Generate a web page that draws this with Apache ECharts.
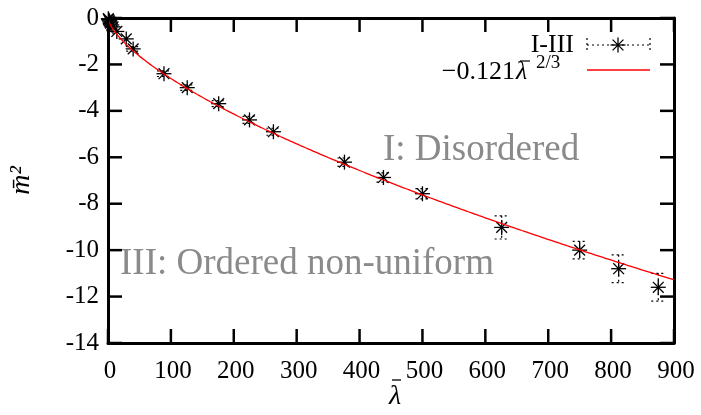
<!DOCTYPE html>
<html>
<head>
<meta charset="utf-8">
<script src="https://cdn.jsdelivr.net/npm/echarts@6/dist/echarts.min.js"></script>
<style>
  html, body { margin: 0; padding: 0; background: #fff; }
  #chart { width: 701px; height: 415px; }
</style>
</head>
<body>
<div id="chart"></div>
<script>
// Measured order parameter versus coupling, regions I-III
const lambdaVals = [0.5, 1, 2, 3, 4, 6, 8, 14, 29, 40, 89, 126, 176, 225, 263, 376, 438, 500, 626, 750, 812, 875];
const m2Vals = [-0.03, -0.07, -0.12, -0.17, -0.22, -0.3, -0.38, -0.58, -0.9, -1.33, -2.4, -3.0, -3.69, -4.39, -4.9, -6.21, -6.87, -7.57, -9.02, -10.0, -10.8, -11.6];
const m2Err = [0.02, 0.02, 0.03, 0.03, 0.03, 0.04, 0.04, 0.05, 0.08, 0.1, 0.12, 0.12, 0.13, 0.15, 0.15, 0.18, 0.2, 0.22, 0.5, 0.38, 0.6, 0.6];

// Power-law fit quoted in the key
const fitCoef = -0.121;
const fitExp = 2 / 3;
const fitLambda = [];
for (let l = 0; l <= 900; l += 2) fitLambda.push(l);

const xTicks = [0, 100, 200, 300, 400, 500, 600, 700, 800, 900];
const yTicks = [0, -2, -4, -6, -8, -10, -12, -14];
const X_MIN = 0, X_MAX = 900, Y_MIN = -14, Y_MAX = 0;

const serifFont = 'Liberation Serif';
const fitData = fitLambda.map(l => [l, fitCoef * Math.pow(l, fitExp)]);
const pointData = lambdaVals.map((l, i) => [l, m2Vals[i], m2Err[i]]);
const TICK_LEN = 14;
const TICK_W = 2.5;

function starLines(cx, cy, r, width) {
  const d = r * 0.72;
  const st = () => ({ stroke: '#000', lineWidth: width });
  return [
    { type: 'line', shape: { x1: cx - r, y1: cy, x2: cx + r, y2: cy }, style: st() },
    { type: 'line', shape: { x1: cx, y1: cy - r, x2: cx, y2: cy + r }, style: st() },
    { type: 'line', shape: { x1: cx - d, y1: cy - d, x2: cx + d, y2: cy + d }, style: st() },
    { type: 'line', shape: { x1: cx - d, y1: cy + d, x2: cx + d, y2: cy - d }, style: st() },
    { type: 'circle', shape: { cx, cy, r: 1.6 }, style: { fill: '#000' } }
  ];
}

// inward tick marks drawn as thin filled bars
const vTick = (x, y, dir) => ({ type: 'rect',
  shape: { x: x - TICK_W / 2, y: dir > 0 ? y : y - TICK_LEN, width: TICK_W, height: TICK_LEN },
  style: { fill: '#000' } });
const hTick = (x, y, dir) => ({ type: 'rect',
  shape: { x: dir > 0 ? x : x - TICK_LEN, y: y - TICK_W / 2, width: TICK_LEN, height: TICK_W },
  style: { fill: '#000' } });

const chart = echarts.init(document.getElementById('chart'), null, { renderer: 'canvas' });

function frameAxis(position, extra) {
  return Object.assign({
    type: 'value', position,
    axisLine: { show: true, onZero: false, lineStyle: { color: '#000', width: 3 } },
    axisTick: { show: false },
    splitLine: { show: false },
    axisLabel: { show: false }
  }, extra);
}

chart.setOption({
  animation: false,
  grid: { left: 102, top: 18, right: 27, bottom: 72 },
  xAxis: [
    frameAxis('bottom', { min: X_MIN, max: X_MAX, interval: 100 }),
    frameAxis('top', { min: X_MIN, max: X_MAX, interval: 100 })
  ],
  yAxis: [
    frameAxis('left', { min: Y_MIN, max: Y_MAX, interval: 2,
      name: 'm\u0304\u00b2', nameLocation: 'middle', nameGap: 72, nameRotate: 90,
      nameTextStyle: { fontFamily: serifFont, fontStyle: 'italic', fontSize: 28, color: '#000' } }),
    frameAxis('right', { min: Y_MIN, max: Y_MAX, interval: 2 })
  ],
  series: [{
    // x ticks on the bottom and top borders, with labels below
    name: 'xFrame',
    type: 'custom',
    clip: false,
    silent: true,
    zlevel: 1,
    z: 10,
    data: xTicks.map(v => [v, Y_MIN]),
    renderItem(params, api) {
      const v = api.value(0);
      const b = api.coord([v, Y_MIN]);
      const t = api.coord([v, Y_MAX]);
      return { type: 'group', children: [
        vTick(b[0], b[1], -1),
        vTick(t[0], t[1], 1),
        { type: 'text', x: b[0] + 2, y: b[1] + 16, style: { text: String(v), fontFamily: serifFont, fontSize: 25,
          fill: '#000', align: 'center', verticalAlign: 'top' } }
      ] };
    }
  }, {
    // y ticks on the left and right borders, with labels at the left
    name: 'yFrame',
    type: 'custom',
    clip: false,
    silent: true,
    zlevel: 1,
    z: 10,
    data: yTicks.map(v => [X_MIN, v]),
    renderItem(params, api) {
      const v = api.value(1);
      const l = api.coord([X_MIN, v]);
      const r = api.coord([X_MAX, v]);
      return { type: 'group', children: [
        hTick(l[0], l[1], 1),
        hTick(r[0], r[1], -1),
        { type: 'text', x: l[0] - 9, y: l[1], style: { text: String(v), fontFamily: serifFont, fontSize: 25,
          fill: '#000', align: 'right', verticalAlign: 'middle' } }
      ] };
    }
  }, {
    name: 'I-III',
    type: 'custom',
    clip: false,
    z: 3,
    data: pointData,
    renderItem(params, api) {
      const x = api.value(0), y = api.value(1), e = api.value(2);
      const c = api.coord([x, y]);
      const top = api.coord([x, y + e]);
      const bot = api.coord([x, y - e]);
      const dotted = () => ({ stroke: '#000', lineWidth: 1.2, lineDash: [2, 3] });
      const cap = 7;
      const children = [];
      if (bot[1] - top[1] > 4) {
        children.push(
          { type: 'line', shape: { x1: c[0], y1: top[1], x2: c[0], y2: bot[1] }, style: dotted() },
          { type: 'line', shape: { x1: c[0] - cap, y1: top[1], x2: c[0] + cap, y2: top[1] }, style: dotted() },
          { type: 'line', shape: { x1: c[0] - cap, y1: bot[1], x2: c[0] + cap, y2: bot[1] }, style: dotted() }
        );
      }
      children.push(...starLines(c[0], c[1], 7.5, 1.3));
      return { type: 'group', children };
    }
  }, {
    name: 'fit',
    type: 'line',
    data: fitData,
    showSymbol: false,
    z: 4,
    lineStyle: { color: '#ff0000', width: 1.3 }
  }],
  graphic: [
    // x-axis title: lambda with an overbar
    { type: 'text', x: 389, y: 383, style: { text: 'λ', font: 'italic 28px ' + serifFont, fill: '#000' } },
    { type: 'line', shape: { x1: 392, y1: 380, x2: 401, y2: 380 }, style: { stroke: '#000', lineWidth: 1.3 } },
    // key: data entry
    { type: 'text', x: 574, y: 32, style: { text: 'I-III', font: '26px ' + serifFont, fill: '#000', align: 'right' } },
    { type: 'line', shape: { x1: 587, y1: 45, x2: 650, y2: 45 }, style: { stroke: '#000', lineWidth: 1.2, lineDash: [2, 3] } },
    { type: 'line', shape: { x1: 587, y1: 38, x2: 587, y2: 53 }, style: { stroke: '#000', lineWidth: 1.2, lineDash: [2, 3] } },
    { type: 'line', shape: { x1: 650, y1: 38, x2: 650, y2: 53 }, style: { stroke: '#000', lineWidth: 1.2, lineDash: [2, 3] } },
    { type: 'group', children: starLines(618, 45, 7.5, 1.3) },
    // key: fit entry
    { type: 'text', x: 515, y: 59, style: { text: '−0.121', font: '26px ' + serifFont, fill: '#000', align: 'right' } },
    { type: 'text', x: 516, y: 59, style: { text: 'λ', font: 'italic 26px ' + serifFont, fill: '#000' } },
    { type: 'line', shape: { x1: 520, y1: 61, x2: 530, y2: 61 }, style: { stroke: '#000', lineWidth: 1.2 } },
    { type: 'text', x: 536, y: 54, style: { text: '2/3', font: '19px ' + serifFont, fill: '#000' } },
    { type: 'line', shape: { x1: 587, y1: 70, x2: 650, y2: 70 }, style: { stroke: '#ff0000', lineWidth: 1.3 } },
    // region labels
    { type: 'text', x: 383, y: 132, style: { text: 'I: Disordered', font: '37px ' + serifFont, fill: '#8a8a8a' } },
    { type: 'text', x: 120, y: 246, style: { text: 'III: Ordered non-uniform', font: '37px ' + serifFont, fill: '#8a8a8a' } }
  ]
});
</script>
</body>
</html>
